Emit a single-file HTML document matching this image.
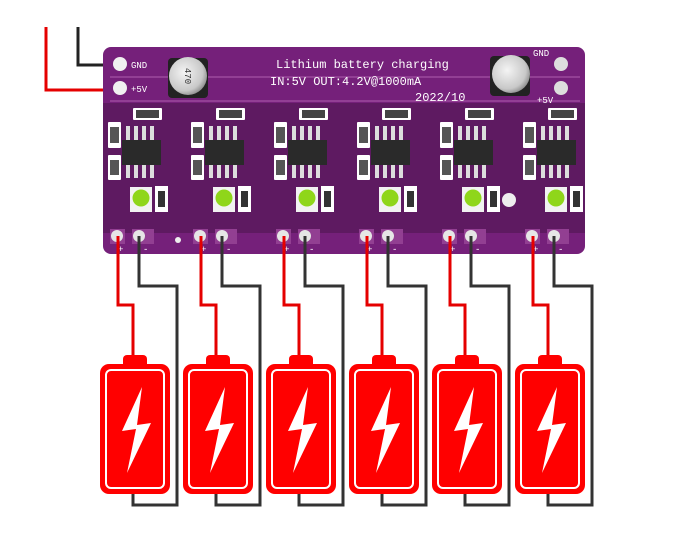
<!DOCTYPE html>
<html><head><style>
html,body{margin:0;padding:0;background:#fff;width:700px;height:539px;overflow:hidden}
text{font-family:"Liberation Mono",monospace;fill:#fff}
</style></head><body>
<svg width="700" height="539" viewBox="0 0 700 539" xmlns="http://www.w3.org/2000/svg">
<defs>
<radialGradient id="cap" cx="0.4" cy="0.4" r="0.7"><stop offset="0" stop-color="#f4f4f4"/><stop offset="0.7" stop-color="#c8c8c8"/><stop offset="1" stop-color="#777"/></radialGradient>
<g id="mod">
  <rect x="108" y="122" width="13" height="26" fill="#fff" rx="1"/><rect x="110" y="127" width="9" height="16" fill="#555"/>
  <rect x="108" y="155" width="13" height="25" fill="#fff" rx="1"/><rect x="110" y="160" width="9" height="15" fill="#555"/>
  <rect x="133" y="108" width="29" height="12" fill="#fff" rx="1"/><rect x="136" y="110" width="23" height="8" fill="#444"/>
  <g fill="#ddd"><rect x="126" y="126" width="4" height="14"/><rect x="134" y="126" width="4" height="14"/><rect x="142" y="126" width="4" height="14"/><rect x="150" y="126" width="4" height="14"/>
  <rect x="126" y="165" width="4" height="13"/><rect x="134" y="165" width="4" height="13"/><rect x="142" y="165" width="4" height="13"/><rect x="150" y="165" width="4" height="13"/></g>
  <rect x="122" y="140" width="39" height="25" fill="#2a2a2a"/>
  <rect x="130" y="187" width="22" height="25" fill="#f2f2f2"/>
  <circle cx="141" cy="198" r="8.5" fill="#8fd61a"/>
  <rect x="155" y="186" width="13" height="26" fill="#fff"/><rect x="158" y="191" width="7" height="16" fill="#333"/>
  <rect x="110" y="229" width="15" height="15" fill="#923f92"/><circle cx="117" cy="236" r="6" fill="#e6e6e6"/>
  <rect x="132" y="229" width="22" height="15" fill="#923f92"/><circle cx="139" cy="236" r="6" fill="#e6e6e6"/>
  <text x="118" y="252" font-size="9">+</text><text x="143" y="252" font-size="9">-</text>
  <polyline points="118,236 118,305 133,305 133,358" fill="none" stroke="#e50000" stroke-width="3"/>
  <polyline points="139,236 139,286 177,286 177,505 133,505 133,492" fill="none" stroke="#333" stroke-width="3"/>
  <rect x="123" y="355" width="24" height="14" rx="4" fill="#f00"/>
  <rect x="100" y="364" width="70" height="130" rx="9" fill="#f00"/>
  <rect x="106" y="370" width="58" height="118" rx="5" fill="none" stroke="#fff" stroke-width="2"/>
  <polygon points="142,387 122,431 136,429 127,473 151,423 137,425" fill="#fff"/>
</g>
</defs>
<polyline points="46,27 46,90 118,90" fill="none" stroke="#e50000" stroke-width="3"/>
<polyline points="78,27 78,65 118,65" fill="none" stroke="#222" stroke-width="3"/>
<rect x="103" y="47" width="482" height="207" rx="8" fill="#75207a"/>
<rect x="103" y="103" width="482" height="130" fill="#5e1a61"/>
<line x1="110" y1="77" x2="580" y2="77" stroke="#923f94" stroke-width="2"/>
<line x1="110" y1="101" x2="580" y2="101" stroke="#923f94" stroke-width="2"/>
<circle cx="120" cy="64" r="7" fill="#f0f0f0"/><circle cx="120" cy="88" r="7" fill="#f0f0f0"/>
<text x="131" y="68" font-size="9" font-family="Liberation Sans">GND</text>
<text x="131" y="92" font-size="9" font-family="Liberation Sans">+5V</text>
<circle cx="561" cy="64" r="7" fill="#ddd"/><circle cx="561" cy="88" r="7" fill="#ddd"/>
<text x="533" y="56" font-size="9" font-family="Liberation Sans">GND</text>
<text x="537" y="103" font-size="9" font-family="Liberation Sans">+5V</text>
<text x="276" y="68" font-size="12">Lithium battery charging</text>
<text x="270" y="85" font-size="12">IN:5V OUT:4.2V@1000mA</text>
<text x="415" y="101" font-size="12">2022/10</text>
<rect x="168" y="58" width="40" height="40" rx="4" fill="#222"/>
<circle cx="188" cy="76" r="19" fill="url(#cap)"/>
<text x="188" y="79" font-size="9" text-anchor="middle" style="fill:#333" transform="rotate(90 188 76)">470</text>
<rect x="490" y="56" width="40" height="40" rx="4" fill="#222"/>
<circle cx="511" cy="74" r="19" fill="url(#cap)"/>
<circle cx="178" cy="240" r="3" fill="#eee"/>
<circle cx="509" cy="200" r="7" fill="#eee"/>
<use href="#mod"/>
<use href="#mod" transform="translate(83,0)"/>
<use href="#mod" transform="translate(166,0)"/>
<use href="#mod" transform="translate(249,0)"/>
<use href="#mod" transform="translate(332,0)"/>
<use href="#mod" transform="translate(415,0)"/>
</svg>
</body></html>
